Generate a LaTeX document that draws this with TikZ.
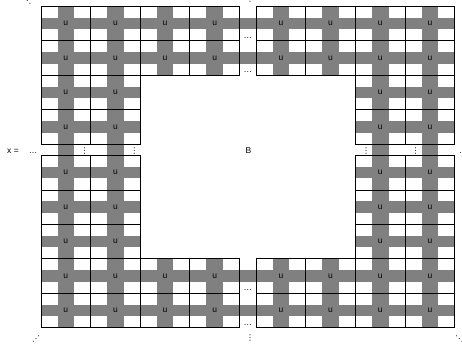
\documentclass[tikz,border=0pt]{standalone}
\usepackage{fontspec}
\setmainfont{Liberation Sans}
\newfontfamily\dotfont{DejaVu Sans}
\usepackage{tikz}

\begin{document}
\begin{tikzpicture}[x=16.548pt, y=-11.479pt,
  band/.style={fill=gray},
  blk/.style={draw=black, line width=0.9pt},
  lbl/.style={font=\fontsize{8.5}{10}\selectfont, inner sep=0pt},
  dts/.style={font=\dotfont\fontsize{8}{9}\selectfont, inner sep=0pt}]
\useasboundingbox (-2.4776,-0.5488) rectangle (25.441,29.854);
% gray crosses of the u blocks
\foreach \bx in {0,3,6,9,13,16,19,22}
  \foreach \by in {0,3,6,9,13,16,19,22,25}{
    \pgfmathtruncatemacro{\inhole}{(\bx>5)*(\bx<19)*(\by>5)*(\by<22)}
    \ifnum\inhole=0
      \fill[band] (\bx+1,\by) rectangle ++(1,3);
      \fill[band] (\bx,\by+1) rectangle ++(3,1);
    \fi
  }
% gap column and gap row
\foreach \by in {0,3,22,25}{
  \fill[band] (12,\by+1) rectangle ++(1,1);
  \node[lbl, anchor=base] (hd-\by) at (12.5,\by+2.78) {\dots};
}
\foreach \bx/\off in {0/2.64,3/2.64,19/0.64,22/0.64}{
  \fill[band] (\bx+1,12) rectangle ++(1,1);
  \node[dts] (vd-\bx) at (\bx+\off,12.58) {⋮};
}
% block borders and labels
\foreach \bx in {0,3,6,9,13,16,19,22}
  \foreach \by in {0,3,6,9,13,16,19,22,25}{
    \pgfmathtruncatemacro{\inhole}{(\bx>5)*(\bx<19)*(\by>5)*(\by<22)}
    \ifnum\inhole=0
      \draw[blk] (\bx,\by) rectangle ++(3,3);
      \node[lbl] (u-\bx-\by) at (\bx+1.5,\by+1.5) {u};
    \fi
  }
% outside texts
\node[lbl, anchor=base] (xeq) at (-1.69,12.85) {x =};
\node[lbl, anchor=base] (ldots) at (-0.48,12.85) {\dots};
\node[lbl, anchor=base] (B) at (12.53,12.81) {B};
\node[lbl, anchor=base] (rdots) at (25.53,12.85) {\dots};
\node[dts] (tl) at (-0.83,-0.46) {⋱};
\node[dts] (tc) at (12.63,-0.62) {⋮};
\node[dts] (bc) at (12.63,28.92) {⋮};
\node[dts] (bl) at (-0.30,28.98) {⋰};
\node[dts] (br) at (25.28,28.96) {⋱};
\end{tikzpicture}
\end{document}
